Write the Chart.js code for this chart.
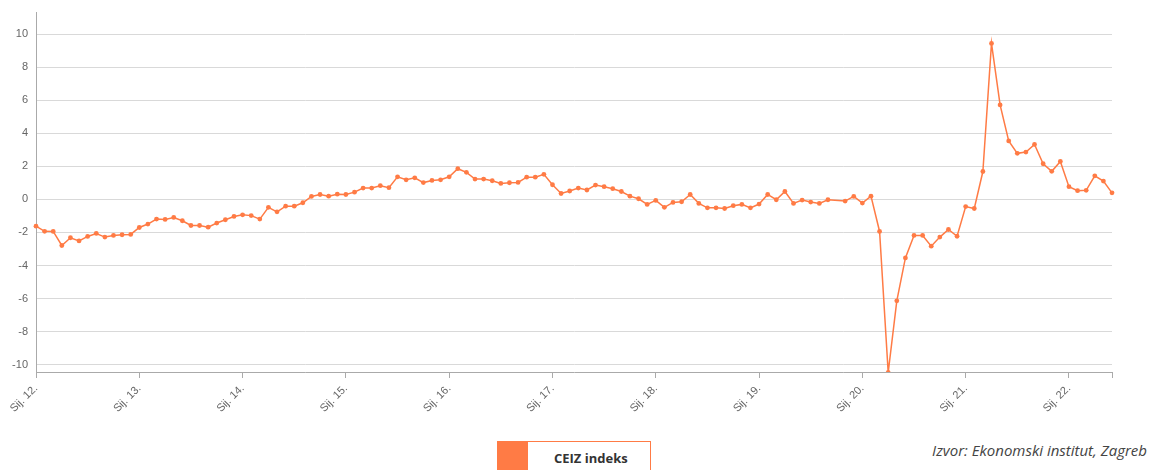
<!DOCTYPE html>
<html>
<head>
<meta charset="utf-8">
<script src="https://cdn.jsdelivr.net/npm/chart.js@4"></script>
<style>
  html, body { margin: 0; padding: 0; background: #fff; }
  body { width: 1149px; height: 470px; position: relative; overflow: hidden; }
  #wrap { position: absolute; left: 0; top: 0; width: 1149px; height: 420px; }
  #legend {
    position: absolute; left: 497px; top: 441px; width: 154px; height: 40px;
    border: 1px solid #ff7b45; box-sizing: border-box;
    font: bold 13px "Open Sans", sans-serif; color: #333;
  }
  #legend .swatch { position: absolute; left: 0; top: 0; width: 30px; height: 100%; background: #ff7b45; }
  #legend .name { position: absolute; left: 56px; top: 7px; }
  #source {
    position: absolute; right: 2px; top: 440px;
    font: italic 15px "Open Sans", sans-serif; color: #444;
  }
</style>
</head>
<body>
<div id="wrap"><canvas id="ceizChart"></canvas></div>
<div id="legend"><span class="swatch"></span><span class="name">CEIZ indeks</span></div>
<div id="source">Izvor: Ekonomski institut, Zagreb</div>

<script>
// month abbreviations (Croatian) and years, Jan 2012 - Jun 2022
const monthNames = ['Sij.', 'Velj.', 'Ožu.', 'Tra.', 'Svi.', 'Lip.', 'Srp.', 'Kol.', 'Ruj.', 'Lis.', 'Stu.', 'Pro.'];
const years = ['12', '13', '14', '15', '16', '17', '18', '19', '20', '21', '22'];

// CEIZ indeks, monthly values (one month missing in 2019)
const ceiz2012 = [-1.62, -1.93, -1.94, -2.79, -2.32, -2.51, -2.24, -2.06, -2.28, -2.18, -2.14, -2.12];
const ceiz2013 = [-1.70, -1.49, -1.19, -1.21, -1.09, -1.29, -1.58, -1.58, -1.68, -1.43, -1.23, -1.03];
const ceiz2014 = [-0.93, -0.98, -1.19, -0.48, -0.75, -0.41, -0.41, -0.20, 0.18, 0.30, 0.20, 0.32];
const ceiz2015 = [0.30, 0.44, 0.69, 0.69, 0.83, 0.71, 1.37, 1.19, 1.31, 1.02, 1.15, 1.19];
const ceiz2016 = [1.37, 1.86, 1.64, 1.23, 1.23, 1.13, 0.97, 1.01, 1.03, 1.35, 1.35, 1.52];
const ceiz2017 = [0.89, 0.36, 0.51, 0.69, 0.57, 0.87, 0.77, 0.65, 0.48, 0.20, 0.04, -0.30];
const ceiz2018 = [-0.06, -0.48, -0.18, -0.14, 0.30, -0.24, -0.51, -0.51, -0.55, -0.38, -0.30, -0.51];
const ceiz2019 = [-0.28, 0.30, -0.02, 0.48, -0.24, -0.04, -0.16, -0.24, -0.02, null, -0.10, 0.18];
const ceiz2020 = [-0.22, 0.20, -1.94, -10.48, -6.14, -3.54, -2.18, -2.18, -2.83, -2.28, -1.82, -2.23];
const ceiz2021 = [-0.43, -0.55, 1.69, 9.45, 5.72, 3.54, 2.79, 2.87, 3.33, 2.16, 1.70, 2.30];
const ceiz2022 = [0.77, 0.53, 0.55, 1.43, 1.11, 0.40];

const yTicks = [-10, -8, -6, -4, -2, 0, 2, 4, 6, 8, 10];

const values = [].concat(ceiz2012, ceiz2013, ceiz2014, ceiz2015, ceiz2016, ceiz2017,
  ceiz2018, ceiz2019, ceiz2020, ceiz2021, ceiz2022);
const labels = values.map((v, i) => `${monthNames[i % 12]} ${years[Math.floor(i / 12)]}.`);

const orange = '#ff7b45';

new Chart(document.getElementById('ceizChart'), {
  type: 'line',
  data: {
    labels,
    datasets: [{
      label: 'CEIZ indeks',
      data: values,
      borderColor: orange,
      backgroundColor: orange,
      borderWidth: 1.5,
      pointRadius: 2.4,
      pointBorderWidth: 0,
      pointBackgroundColor: orange,
      tension: 0,
      spanGaps: true,
      fill: false,
    }],
  },
  options: {
    responsive: true,
    maintainAspectRatio: false,
    animation: false,
    layout: { padding: { top: 12, right: 37, left: 0, bottom: 0 } },
    plugins: { legend: { display: false }, tooltip: { enabled: false } },
    scales: {
      x: {
        offset: false,
        grid: {
          drawOnChartArea: false,
          drawTicks: true,
          tickLength: 6,
          color: (ctx) => (ctx.index % 12 === 0 || ctx.index === values.length - 1 ? '#aaa' : 'rgba(0,0,0,0)'),
        },
        border: { display: true, color: '#aaa', width: 1 },
        ticks: {
          autoSkip: false,
          minRotation: 45,
          maxRotation: 45,
          padding: 4,
          color: '#666',
          font: { family: 'Liberation Sans, Arial, sans-serif', size: 11 },
          callback: function (value, index) {
            return index % 12 === 0 ? this.getLabelForValue(value) : '';
          },
        },
        afterFit: (scale) => { scale.height = 48; },
      },
      y: {
        min: -10.45,
        max: 11.35,
        grid: { color: '#d9d9d9', lineWidth: 1, drawTicks: false },
        border: { display: true, color: '#aaa', width: 1 },
        afterBuildTicks: (scale) => { scale.ticks = yTicks.map((v) => ({ value: v })); },
        ticks: {
          padding: 8,
          color: '#666',
          font: { family: 'Liberation Sans, Arial, sans-serif', size: 11 },
        },
        afterFit: (scale) => {
          scale.width = 36;
          scale.paddingTop = 0;
          scale.paddingBottom = 0;
        },
      },
    },
  },
});
</script>
</body>
</html>
